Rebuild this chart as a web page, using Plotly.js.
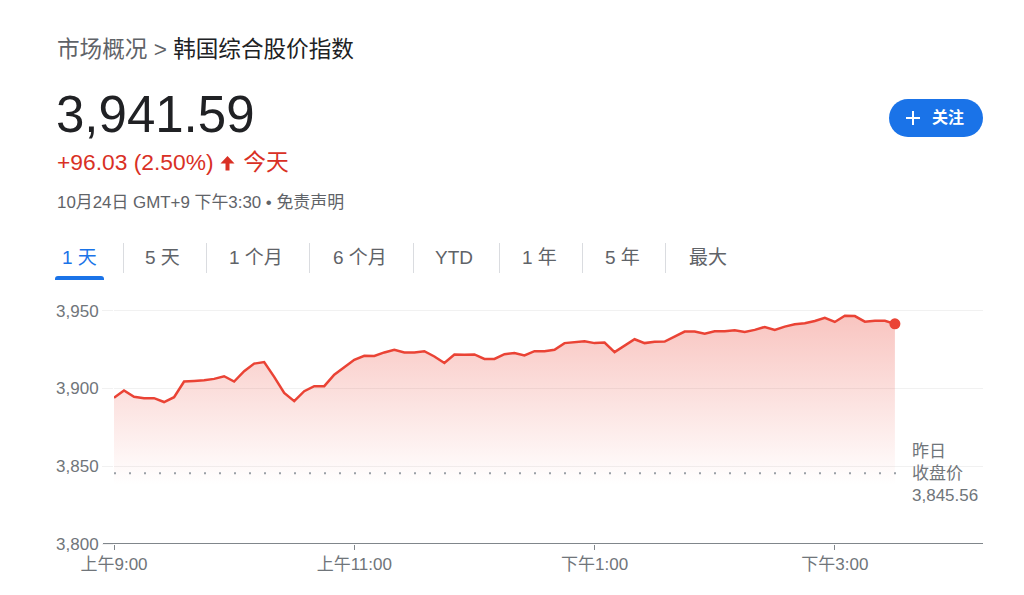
<!DOCTYPE html>
<html><head><meta charset="utf-8">
<script src="https://cdn.plot.ly/plotly-3.0.1.min.js"></script>
<style>
body{margin:0;background:#fff;}
#wrap{position:relative;width:1024px;height:595px;overflow:hidden;font-family:"Liberation Sans",Arial,"Noto Sans CJK SC",sans-serif;}
#chart{position:absolute;left:0;top:0;width:1024px;height:595px;}
.abs{position:absolute;white-space:nowrap;line-height:1;}
.tab{position:absolute;top:248px;font-size:19px;line-height:1;color:#5f6368;white-space:nowrap;}
.sep{position:absolute;top:243px;width:1px;height:30px;background:#dadce0;}
</style></head><body>
<div id="wrap">
<div id="chart"></div>
<div class="abs" style="left:57px;top:39px;font-size:22.6px;color:#5f6368">市场概况 &gt; <span style="color:#202124">韩国综合股价指数</span></div>
<div class="abs" id="price" style="left:56px;top:89px;font-size:51px;color:#202124"></div>
<div class="abs" id="chg" style="left:57px;top:151px;font-size:22.8px;color:#d93025"></div>
<div class="abs" id="dateline" style="left:57px;top:195px;font-size:16.9px;color:#5f6368"></div>
<div id="tabs"></div>
<div style="position:absolute;left:55px;top:276px;width:49px;height:4px;background:#1a73e8;border-radius:3px 3px 0 0"></div>
<div style="position:absolute;left:889px;top:99px;width:94px;height:38px;border-radius:19px;background:#1a73e8;color:#fff;font-size:16px;font-weight:bold;line-height:38px;">
  <svg style="position:absolute;left:17px;top:12px" width="14" height="14" viewBox="0 0 14 14"><path d="M7 0v14M0 7h14" stroke="#fff" stroke-width="2"/></svg>
  <span style="position:absolute;left:43px;top:0">关注</span>
</div>
</div>
<script>
const FONT = '"Liberation Sans", Arial, "Noto Sans CJK SC", sans-serif';
const day = '2025-10-24';
const times = ["09:00","09:05","09:10","09:15","09:20","09:25","09:30","09:35","09:40","09:45",
"09:50","09:55","10:00","10:05","10:10","10:15","10:20","10:25","10:30","10:35",
"10:40","10:45","10:50","10:55","11:00","11:05","11:10","11:15","11:20","11:25",
"11:30","11:35","11:40","11:45","11:50","11:55","12:00","12:05","12:10","12:15",
"12:20","12:25","12:30","12:35","12:40","12:45","12:50","12:55","13:00","13:05",
"13:10","13:15","13:20","13:25","13:30","13:35","13:40","13:45","13:50","13:55",
"14:00","14:05","14:10","14:15","14:20","14:25","14:30","14:35","14:40","14:45",
"14:50","14:55","15:00","15:05","15:10","15:15","15:20","15:25","15:30"];
const values = [3894.1,3898.7,3894.7,3893.8,3893.8,3891.3,3894.4,3904.5,3904.9,3905.3,
3906.2,3907.9,3904.5,3911.1,3916.0,3917.0,3907.5,3897.2,3891.9,3898.3,
3901.5,3901.5,3908.9,3913.9,3918.5,3921.0,3920.9,3923.2,3924.9,3923.2,
3923.2,3924.0,3920.6,3916.4,3921.9,3921.7,3921.9,3919.0,3919.0,3922.1,
3922.8,3921.3,3924.0,3924.0,3924.9,3929.2,3929.6,3930.4,3929.2,3929.6,
3923.4,3927.7,3931.7,3929.2,3930.0,3930.2,3933.4,3936.6,3936.6,3935.3,
3936.8,3936.8,3937.5,3936.4,3937.7,3939.6,3937.7,3939.8,3941.3,3942.0,
3943.4,3945.5,3942.8,3946.8,3946.6,3943.0,3943.6,3943.6,3941.59];
const prevClose = 3845.56;
const lastPrice = 3941.59;
const change = 96.03;
const changePct = 2.50;
const xTickVals = ["09:00","11:00","13:00","15:00"];
const xTickText = ["上午9:00","上午11:00","下午1:00","下午3:00"];
const yTickVals = [3800,3850,3900,3950];
const tabLabels = ["1 天","5 天","1 个月","6 个月","YTD","1 年","5 年","最大"];
const tabLeft = [62,145,229,333,435,522,605,689];
const sepLeft = [123,206,309,413,499,582,665];

document.getElementById('price').textContent = lastPrice.toLocaleString('en-US',{minimumFractionDigits:2});
document.getElementById('chg').innerHTML = '+' + change.toFixed(2) + ' (' + changePct.toFixed(2) + '%) ' +
  '<svg style="vertical-align:-1px;margin:0 2px 0 0" width="15" height="16" viewBox="0 0 15 16"><path fill="#d93025" d="M7.5 1L0.5 8.5h5v7h4v-7h5z"/></svg> 今天';
document.getElementById('dateline').textContent = '10月24日 GMT+9 下午3:30 • 免责声明';
const tabsEl = document.getElementById('tabs');
tabLabels.forEach((t,i)=>{
  const d=document.createElement('div'); d.className='tab'; d.style.left=tabLeft[i]+'px';
  if(i===0) d.style.color='#1a73e8';
  d.textContent=t; tabsEl.appendChild(d);
});
sepLeft.forEach(x=>{const s=document.createElement('div'); s.className='sep'; s.style.left=x+'px'; tabsEl.appendChild(s);});

const xs = times.map(t=>day+' '+t);
const traces = [
 {x:xs, y:values, type:'scatter', mode:'lines', line:{color:'#ea4335', width:2.5},
  fill:'tozeroy', fillgradient:{type:'vertical', start:3838, stop:3950,
  colorscale:[[0,'rgba(234,67,53,0)'],[1,'rgba(234,67,53,0.32)']]}, hoverinfo:'skip'},
 {x:[xs[xs.length-1]], y:[values[values.length-1]], type:'scatter', mode:'markers',
  marker:{color:'#ea4335', size:11}, hoverinfo:'skip'}
];
const layout = {
  width:1024, height:595,
  margin:{l:114, r:41, t:289, b:51},
  paper_bgcolor:'rgba(0,0,0,0)', plot_bgcolor:'rgba(0,0,0,0)',
  showlegend:false,
  font:{family:FONT, size:17, color:'#70757a'},
  xaxis:{type:'date', range:[day+' 09:00', day+' 16:14'],
    tickmode:'array', tickvals:xTickVals.map(t=>day+' '+t), ticktext:xTickText,
    ticks:'outside', ticklen:5, tickcolor:'#80868b', tickwidth:1,
    showgrid:false, showline:false, zeroline:false, fixedrange:true,
    tickfont:{family:FONT, size:17, color:'#70757a'}},
  yaxis:{range:[3800,3964], tickmode:'array', tickvals:yTickVals, tickformat:',',
    ticks:'outside', ticklen:11, tickcolor:'#f1f1f1', tickwidth:1,
    showgrid:true, gridcolor:'#f1f1f1', gridwidth:1, zeroline:false, showline:false, fixedrange:true,
    tickfont:{family:FONT, size:17, color:'#70757a'}},
  shapes:[
    {type:'line', xref:'paper', yref:'y', x0:-0.0127, x1:1, y0:3800, y1:3800, line:{color:'#80868b', width:2}},
    {type:'line', xref:'x', yref:'y', x0:xs[0], x1:day+' 15:35', y0:prevClose, y1:prevClose, line:{color:'#9aa0a6', width:2, dash:'2px,13px'}}
  ],
  annotations:[
    {xref:'paper', yref:'y', x:0.916, y:prevClose, xanchor:'left', yanchor:'middle', align:'left', showarrow:false,
     text:'昨日<br>收盘价<br>'+prevClose.toLocaleString('en-US',{minimumFractionDigits:2}),
     font:{family:FONT, size:17, color:'#70757a'}}
  ]
};
Plotly.newPlot('chart', traces, layout, {displayModeBar:false, staticPlot:true});
</script>
</body></html>
